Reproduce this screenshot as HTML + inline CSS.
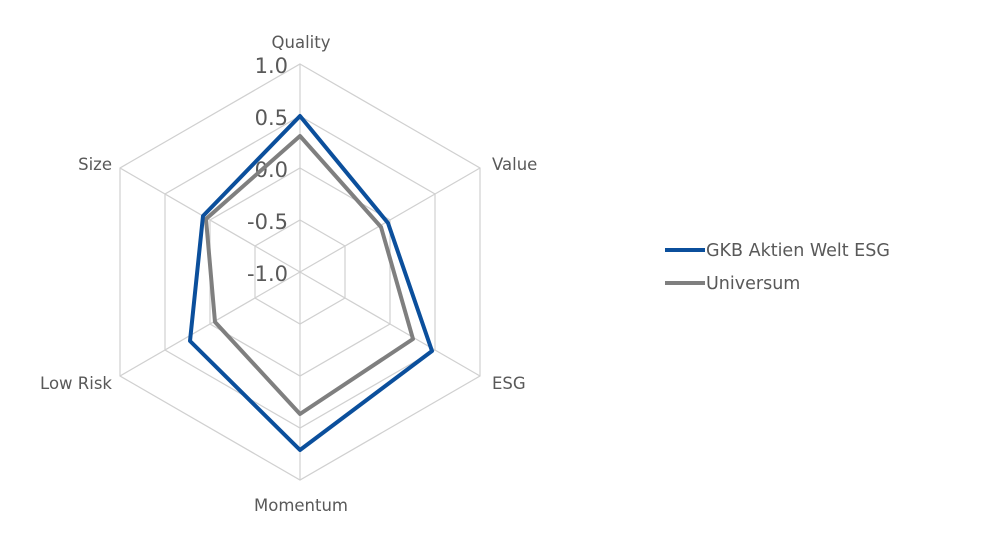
<!DOCTYPE html>
<html><head><meta charset="utf-8"><style>
body{margin:0;background:#fff}
svg{display:block;font-family:"DejaVu Sans","Liberation Sans",sans-serif}
</style></head><body>
<svg width="999" height="538" viewBox="0 0 999 538">
<g fill="none" stroke="#d0d0d0" stroke-width="1.2">
<polygon points="300,64 480,168 480,376 300,480 120,376 120,168"/>
<polygon points="300,116 435,194 435,350 300,428 165,350 165,194"/>
<polygon points="300,168 390,220 390,324 300,376 210,324 210,220"/>
<polygon points="300,220 345,246 345,298 300,324 255,298 255,246"/>
<line x1="300" y1="272" x2="300" y2="64"/>
<line x1="300" y1="272" x2="480" y2="168"/>
<line x1="300" y1="272" x2="480" y2="376"/>
<line x1="300" y1="272" x2="300" y2="480"/>
<line x1="300" y1="272" x2="120" y2="376"/>
<line x1="300" y1="272" x2="120" y2="168"/>
</g>
<g fill="#595959" font-size="21" text-anchor="end">
<text x="288" y="73">1.0</text>
<text x="288" y="125">0.5</text>
<text x="288" y="177">0.0</text>
<text x="288" y="229">-0.5</text>
<text x="288" y="281">-1.0</text>
</g>
<polygon points="300,136 381,227 413,339 300,414 215,322 206,219" fill="none" stroke="#7f7f7f" stroke-width="4" stroke-linejoin="round"/>
<polygon points="300,116 388,223 432,351 300,450 190,341 203,216" fill="none" stroke="#0b4f9c" stroke-width="4" stroke-linejoin="round"/>
<g fill="#595959" font-size="16.5">
<text x="301" y="48" text-anchor="middle">Quality</text>
<text x="492" y="170">Value</text>
<text x="492" y="389">ESG</text>
<text x="301" y="511" text-anchor="middle">Momentum</text>
<text x="112" y="389" text-anchor="end">Low Risk</text>
<text x="112" y="170" text-anchor="end">Size</text>
</g>
<line x1="665" y1="250" x2="705" y2="250" stroke="#0b4f9c" stroke-width="4"/>
<line x1="665" y1="283" x2="705" y2="283" stroke="#7f7f7f" stroke-width="4"/>
<g fill="#595959" font-size="17.5">
<text x="706" y="256">GKB Aktien Welt ESG</text>
<text x="706" y="289">Universum</text>
</g>
</svg>
</body></html>
